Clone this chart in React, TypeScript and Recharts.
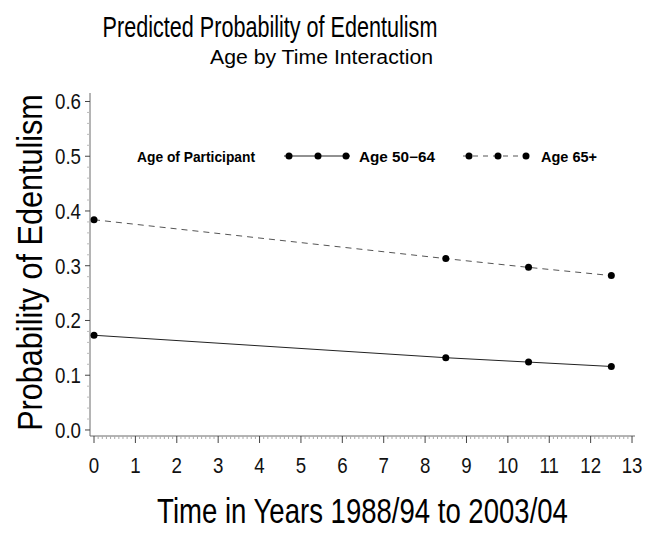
import { LineChart, Line, XAxis, YAxis } from "recharts"

// Time since 1988/94 (years)
const years = [0, 8.5, 10.5, 12.5]
// Predicted probability, age 50-64
const age5064 = [0.173, 0.132, 0.124, 0.116]
// Predicted probability, age 65+
const age65plus = [0.384, 0.313, 0.297, 0.282]

const xMajorTicks = [0, 1, 2, 3, 4, 5, 6, 7, 8, 9, 10, 11, 12, 13]
const yMajorTicks = [0, 0.1, 0.2, 0.3, 0.4, 0.5, 0.6]

const title = "Predicted Probability of Edentulism"
const subtitle = "Age by Time Interaction"
const xTitle = "Time in Years 1988/94 to 2003/04"
const yTitle = "Probability of Edentulism"
const legendTitle = "Age of Participant"
const series1Name = "Age 50\u221264"
const series2Name = "Age 65+"

const chartData = years.map((t, i) => ({ t, young: age5064[i], old: age65plus[i] }))

// minor ticks: 10 steps per year on x, 5 steps per 0.1 on y
const xTicks: number[] = []
for (let i = 0; i <= 130; i++) xTicks.push(i / 10)
const yTicks: number[] = []
for (let i = 0; i <= 30; i++) yTicks.push(i / 50)

const FONT = "'Liberation Sans', Arial, Helvetica, sans-serif"
const AXIS = "#6b6b6b"

const XTick = (props: any) => {
  const { x, y, payload } = props
  const v = payload.value
  const major = xMajorTicks.some(m => Math.abs(m - v) < 1e-6)
  return (
    <g>
      <line x1={x} y1={y} x2={x} y2={y + (major ? 7 : 3)} stroke={major ? "#444" : "#aaa"} strokeWidth={1} />
      {major && (
        <text transform={`translate(${x},${y + 37}) scale(0.85,1)`} textAnchor="middle" fontSize={22} fontFamily={FONT} fill="#111">
          {Math.round(v)}
        </text>
      )}
    </g>
  )
}

const YTick = (props: any) => {
  const { x, y, payload } = props
  const v = payload.value
  const major = yMajorTicks.some(m => Math.abs(m - v) < 1e-6)
  return (
    <g>
      <line x1={x - (major ? 5 : 3)} y1={y} x2={x} y2={y} stroke={major ? "#444" : "#bbb"} strokeWidth={1} />
      {major && (
        <text transform={`translate(${x - 9},${y + 8}) scale(0.85,1)`} textAnchor="end" fontSize={22} fontFamily={FONT} fill="#111">
          {v.toFixed(1)}
        </text>
      )}
    </g>
  )
}

function Overlay() {
  return (
    <svg width={651} height={537} style={{ position: "absolute", left: 0, top: 0, pointerEvents: "none" }}>
      <g fontFamily={FONT} fill="#000">
        <text transform="translate(270,37) scale(0.72,1)" textAnchor="middle" fontSize={30}>{title}</text>
        <text x={321.5} y={64} textAnchor="middle" fontSize={20} textLength={223} lengthAdjust="spacingAndGlyphs">{subtitle}</text>
        <text transform="translate(362.5,523) scale(0.787,1)" textAnchor="middle" fontSize={35}>{xTitle}</text>
        <text transform="translate(42,262.5) rotate(-90) scale(0.85,1)" textAnchor="middle" fontSize={36}>{yTitle}</text>
        {/* legend */}
        <g fontSize={14} fontWeight="bold">
          <text x={137} y={162} textLength={118} lengthAdjust="spacingAndGlyphs">{legendTitle}</text>
          <text x={359} y={162} textLength={76} lengthAdjust="spacingAndGlyphs">{series1Name}</text>
          <text x={541} y={162} textLength={56} lengthAdjust="spacingAndGlyphs">{series2Name}</text>
        </g>
        <line x1={284} y1={156} x2={350} y2={156} stroke="#222" strokeWidth={1} />
        <circle cx={289} cy={156} r={3.5} />
        <circle cx={318} cy={156} r={3.5} />
        <circle cx={346} cy={156} r={3.5} />
        <line x1={463} y1={156} x2={528} y2={156} stroke="#555" strokeWidth={1} strokeDasharray="5 5" />
        <circle cx={469} cy={156} r={3.5} />
        <circle cx={498} cy={156} r={3.5} />
        <circle cx={526} cy={156} r={3.5} />
      </g>
    </svg>
  )
}

export default function App() {
  return (
    <div style={{ position: "absolute", left: 0, top: 0, width: 651, height: 537, background: "#fff" }}>
      <LineChart width={651} height={537} data={chartData} margin={{ top: 93, right: 16, bottom: 0, left: 0 }}>
        <XAxis
          dataKey="t"
          type="number"
          domain={[-0.097, 13.072]}
          allowDataOverflow
          ticks={xTicks}
          interval={0}
          height={101}
          tickSize={0}
          tickMargin={0}
          tickLine={false}
          axisLine={{ stroke: AXIS }}
          tick={<XTick />}
        />
        <XAxis xAxisId="top" orientation="top" dataKey="t" type="number" domain={[-0.097, 13.072]} allowDataOverflow height={0} tick={false} tickLine={false} axisLine={{ stroke: AXIS }} />
        <YAxis
          type="number"
          domain={[-0.011, 0.6155]}
          allowDataOverflow
          ticks={yTicks}
          interval={0}
          width={90}
          tickSize={0}
          tickMargin={0}
          tickLine={false}
          axisLine={{ stroke: AXIS }}
          tick={<YTick />}
        />
        <YAxis yAxisId="right" orientation="right" type="number" domain={[-0.011, 0.6155]} allowDataOverflow width={0} tick={false} tickLine={false} axisLine={{ stroke: AXIS }} />
        <Line
          type="linear"
          dataKey="young"
          name={series1Name}
          stroke="#222"
          strokeWidth={1}
          dot={{ r: 3.5, fill: "#000", stroke: "#000", strokeWidth: 0 }}
          isAnimationActive={false}
        />
        <Line
          type="linear"
          dataKey="old"
          name={series2Name}
          stroke="#555"
          strokeWidth={1}
          strokeDasharray="6 5"
          dot={{ r: 3.5, fill: "#000", stroke: "#000", strokeWidth: 0, strokeDasharray: "" }}
          isAnimationActive={false}
        />
      </LineChart>
      <Overlay />
    </div>
  )
}
